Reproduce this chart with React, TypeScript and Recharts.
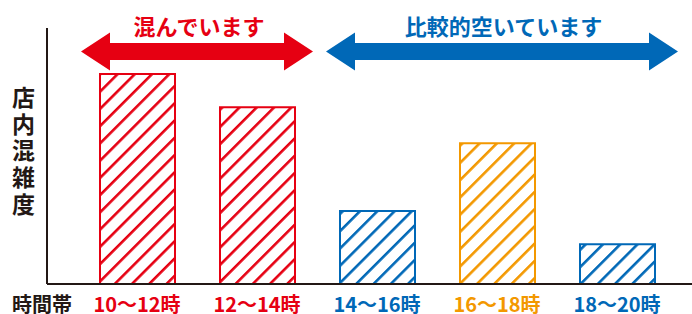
import React from 'react';
import { BarChart, Bar, XAxis, YAxis, Cell } from 'recharts';

const categories = ['10〜12時', '12〜14時', '14〜16時', '16〜18時', '18〜20時'];
const congestion = [82, 69, 28.5, 55, 15.5];
const tones = ['red', 'red', 'blue', 'orange', 'blue'];

const COLORS: Record<string, string> = {
  red: '#e60012',
  blue: '#0068b7',
  orange: '#f39800',
};
const DARK = '#231815';
const FONT = '"Noto Sans CJK JP", "Noto Sans", sans-serif';

const data = categories.map((c, i) => ({ name: c, value: congestion[i], tone: tones[i] }));

const yLabel = ['店', '内', '混', '雑', '度'];

const Tick = (props: any) => {
  const { x, y, payload, index } = props;
  const color = COLORS[tones[index]] || DARK;
  return (
    <text
      x={x}
      y={y + 19}
      textAnchor="middle"
      dominantBaseline="central"
      fill={color}
      fontSize={20}
      fontWeight={700}
      fontFamily={FONT}
    >
      {payload.value}
    </text>
  );
};

const arrowPoints = (x1: number, x2: number, cy: number, head: number, halfShaft: number, halfHead: number) => {
  return [
    [x1, cy],
    [x1 + head, cy - halfHead],
    [x1 + head, cy - halfShaft],
    [x2 - head, cy - halfShaft],
    [x2 - head, cy - halfHead],
    [x2, cy],
    [x2 - head, cy + halfHead],
    [x2 - head, cy + halfShaft],
    [x1 + head, cy + halfShaft],
    [x1 + head, cy + halfHead],
  ]
    .map((p) => p.join(','))
    .join(' ');
};

export default function App() {
  return (
    <div style={{ position: 'absolute', left: 0, top: 0, width: 692, height: 314, background: '#fff' }}>
      <BarChart
        width={692}
        height={314}
        data={data}
        margin={{ top: 28, right: 0, bottom: 0, left: 0 }}
      >
        <defs>
          {Object.keys(COLORS).map((k) => (
            <pattern
              key={k}
              id={`hatch-${k}`}
              patternUnits="userSpaceOnUse"
              width={12.2}
              height={12.2}
              patternTransform="rotate(45)"
            >
              <rect x={0} y={0} width={2.6} height={12.2} fill={COLORS[k]} />
            </pattern>
          ))}
        </defs>
        <XAxis
          dataKey="name"
          height={30}
          padding={{ left: 30, right: 15 }}
          axisLine={{ stroke: DARK, strokeWidth: 2 }}
          tickLine={false}
          tickSize={0}
          tickMargin={0}
          interval={0}
          tick={<Tick />}
        />
        <YAxis
          width={47}
          domain={[0, 100]}
          tick={false}
          tickLine={false}
          axisLine={{ stroke: DARK, strokeWidth: 2 }}
        />
        <Bar dataKey="value" barSize={75} isAnimationActive={false} strokeWidth={2}>
          {data.map((d, i) => (
            <Cell key={i} fill={`url(#hatch-${d.tone})`} stroke={COLORS[d.tone]} />
          ))}
        </Bar>
      </BarChart>
      <svg
        width={692}
        height={314}
        style={{ position: 'absolute', left: 0, top: 0, pointerEvents: 'none' }}
      >
        <polygon points={arrowPoints(81, 313, 51.5, 29, 8.5, 19)} fill={COLORS.red} />
        <polygon points={arrowPoints(326, 678, 51.5, 29, 8.5, 19)} fill={COLORS.blue} />
        <text
          x={199}
          y={25}
          textAnchor="middle"
          dominantBaseline="central"
          fill={COLORS.red}
          fontSize={22}
          fontWeight={700}
          fontFamily={FONT}
        >
          混んでいます
        </text>
        <text
          x={503.5}
          y={25}
          textAnchor="middle"
          dominantBaseline="central"
          fill={COLORS.blue}
          fontSize={22}
          fontWeight={700}
          fontFamily={FONT}
        >
          比較的空いています
        </text>
        <text
          textAnchor="middle"
          dominantBaseline="central"
          fill={DARK}
          fontSize={23}
          fontWeight={700}
          fontFamily={FONT}
        >
          {yLabel.map((ch, i) => (
            <tspan key={i} x={23.5} y={96 + i * 26.7}>
              {ch}
            </tspan>
          ))}
        </text>
        <text
          x={42}
          y={303}
          textAnchor="middle"
          dominantBaseline="central"
          fill={DARK}
          fontSize={20}
          fontWeight={700}
          fontFamily={FONT}
        >
          時間帯
        </text>
      </svg>
    </div>
  );
}
